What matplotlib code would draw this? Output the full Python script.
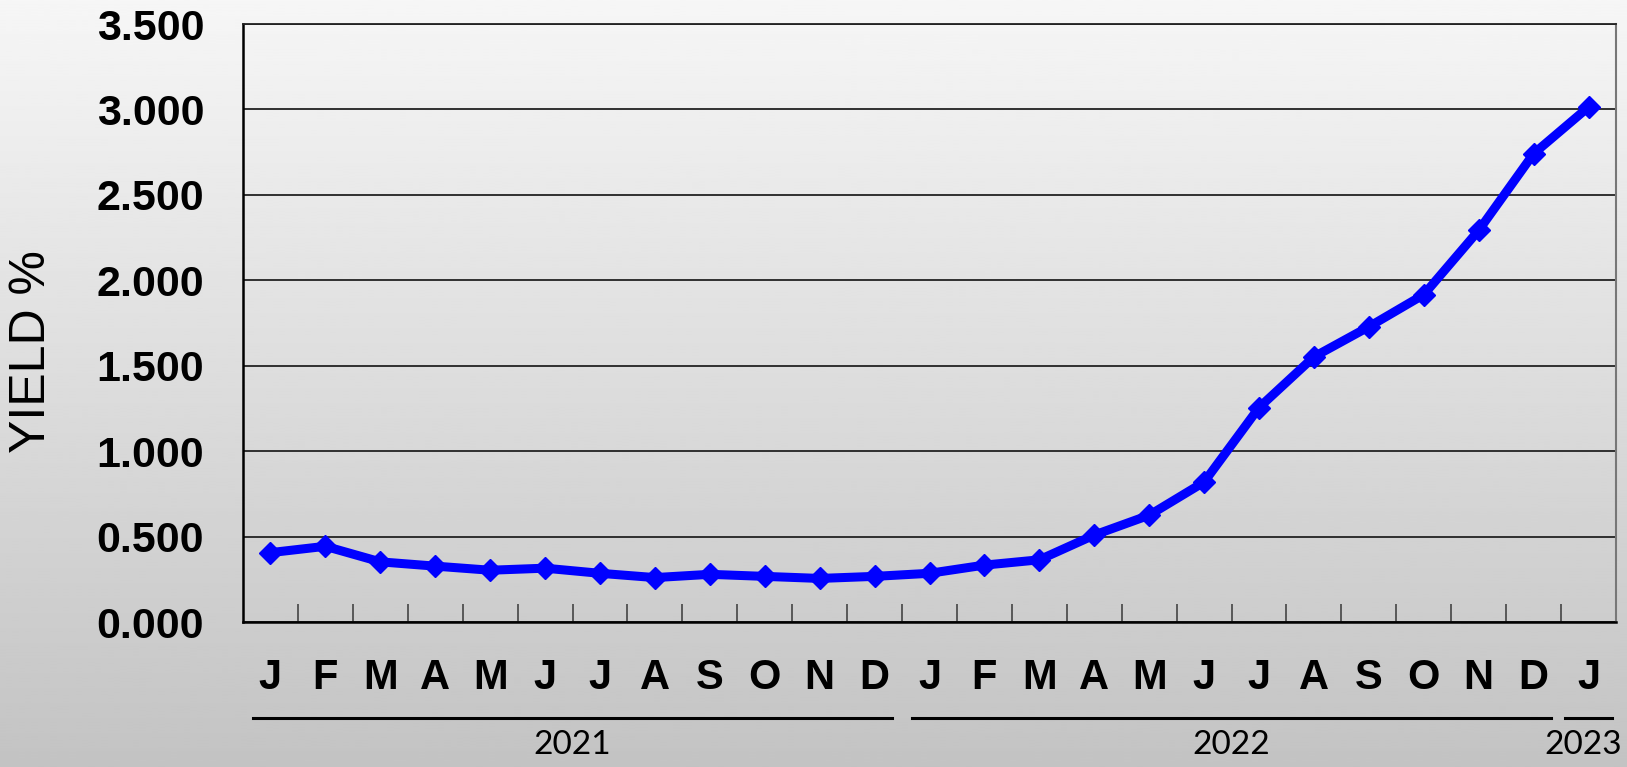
import numpy as np
import matplotlib
matplotlib.use("Agg")
import matplotlib.pyplot as plt
import matplotlib.transforms as mtransforms

months = ["J", "F", "M", "A", "M", "J", "J", "A", "S", "O", "N", "D",
          "J", "F", "M", "A", "M", "J", "J", "A", "S", "O", "N", "D", "J"]
yields = [0.406, 0.443, 0.352, 0.327, 0.303, 0.315, 0.285, 0.260, 0.279, 0.267, 0.255, 0.267,
          0.285, 0.333, 0.364, 0.509, 0.625, 0.819, 1.255, 1.552, 1.728, 1.916, 2.292, 2.741, 3.014]
years = ["2021", "2022", "2023"]
year_counts = [12, 12, 1]
yticks = [0.0, 0.5, 1.0, 1.5, 2.0, 2.5, 3.0, 3.5]
ytick_labels = ["0.000", "0.500", "1.000", "1.500", "2.000", "2.500", "3.000", "3.500"]

W, H = 1627, 767
fig = plt.figure(figsize=(W / 100, H / 100), dpi=100)

# background gradient
bg = fig.add_axes([0, 0, 1, 1], zorder=-10)
grad = np.linspace(0.965, 0.765, 256).reshape(-1, 1)
bg.imshow(grad, aspect="auto", cmap="gray", vmin=0, vmax=1, extent=[0, 1, 0, 1])
bg.set_axis_off()

L, R, T, B = 243, 1616, 24, 622
ax = fig.add_axes([L / W, 1 - B / H, (R - L) / W, (B - T) / H])
ax.set_facecolor("none")

x = np.arange(len(months))
ax.plot(x, yields, color="#0000ff", lw=6.5, marker="D", ms=11, zorder=5, clip_on=False)

ax.set_xlim(-0.5, len(months) - 0.5)
ax.set_ylim(0, 3.5)
ax.set_yticks(yticks)
ax.set_yticklabels(ytick_labels, fontfamily="Liberation Sans", fontweight="bold", fontsize=31)
ax.tick_params(axis="y", length=0, pad=28)
ax.grid(axis="y", color="#222222", lw=1.3, zorder=1)

ax.set_xticks(x)
ax.set_xticklabels(months, fontfamily="Liberation Sans", fontweight="bold", fontsize=30)
ax.tick_params(axis="x", which="major", length=0, pad=26)
ax.set_xticks(np.arange(0.5, len(months) - 1, 1.0), minor=True)
ax.tick_params(axis="x", which="minor", direction="in", length=13, width=1.2, color="#444444")

for s in ["left", "bottom"]:
    ax.spines[s].set_color("black")
    ax.spines[s].set_linewidth(1.8)
ax.spines["top"].set_color("#222222")
ax.spines["top"].set_linewidth(1.3)
ax.spines["right"].set_color("#777777")
ax.spines["right"].set_linewidth(1.5)

fig.text(32 / W, 1 - 352 / H, "YIELD %", rotation=90, ha="center", va="center",
         fontfamily="Liberation Sans", fontsize=36)

# year brackets
trans = mtransforms.blended_transform_factory(ax.transData, fig.transFigure)
start = -0.5
y_line = 1 - 718 / H
y_text = 1 - 745 / H
for yr, n in zip(years, year_counts):
    end = start + n
    inset = 0.19 if n > 1 else 0.07
    ax.plot([start + inset, end - inset], [y_line, y_line], transform=trans, color="black",
            lw=2.2, clip_on=False)
    ax.text((start + end) / 2 - (0.1 if n == 1 else 0), y_text, yr, transform=trans,
            ha="center", va="center", fontsize=24, fontfamily="Lato")
    start = end

fig.savefig("out.png", dpi=100)
